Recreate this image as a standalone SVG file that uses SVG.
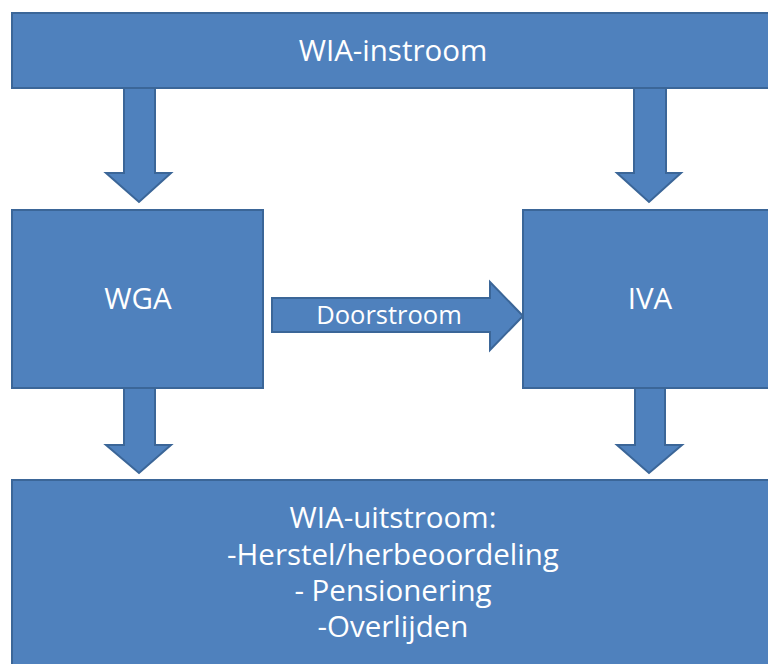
<svg xmlns="http://www.w3.org/2000/svg" width="768" height="664" viewBox="0 0 768 664">
<style>
.box{fill:#4F81BD;stroke:#3B6698;stroke-width:2}
.arr{fill:#4F81BD;stroke:#3B6698;stroke-width:2;stroke-linejoin:miter}
text{font-family:"Open Sans","Liberation Sans",sans-serif;fill:#FFFFFF;text-anchor:middle;font-weight:500}
.t{font-size:29.5px}
.s{font-size:25.5px}
</style>
<rect width="768" height="664" fill="#FFFFFF"/>
<g id="connectors">
<polygon class="arr" points="124,88 155,88 155,173 171,173 139,202 106,173 124,173"/>
<polygon class="arr" points="634,88 666,88 666,173 681,173 649,202 617,173 634,173"/>
<polygon class="arr" points="124,388 155,388 155,445 171,445 139,473 106,445 124,445"/>
<polygon class="arr" points="635,388 665,388 665,445 682,445 649,473 617,445 635,445"/>
<g id="doorstroom">
<polygon class="arr" points="272,298 490,298 490,282 523,316 490,350 490,332 272,332"/>
<text class="s" x="389" y="324">Doorstroom</text>
</g>
</g>
<g id="wia-instroom">
<rect class="box" x="12" y="13" width="770" height="75"/>
<text class="t" x="393" y="61">WIA-instroom</text>
</g>
<g id="wga">
<rect class="box" x="12" y="210" width="251" height="178"/>
<text class="t" x="138" y="309">WGA</text>
</g>
<g id="iva">
<rect class="box" x="523" y="210" width="260" height="178"/>
<text class="t" x="650" y="309">IVA</text>
</g>
<g id="wia-uitstroom">
<rect class="box" x="12" y="480" width="770" height="200"/>
<text class="t" x="393" y="528">WIA-uitstroom:</text>
<text class="t" x="393" y="565">-Herstel/herbeoordeling</text>
<text class="t" x="393" y="601">- Pensionering</text>
<text class="t" x="393" y="637">-Overlijden</text>
</g>
</svg>
